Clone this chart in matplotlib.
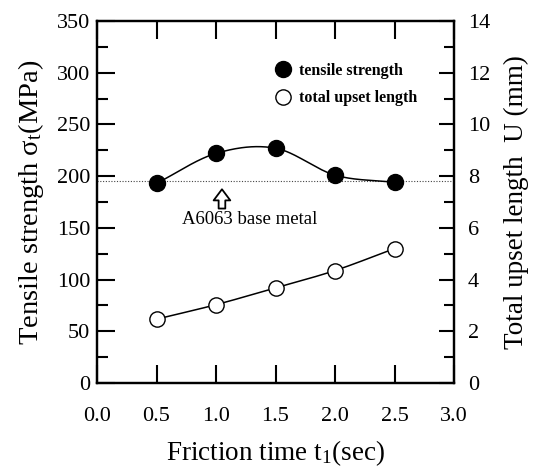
import numpy as np
import matplotlib
matplotlib.use("Agg")
import matplotlib.pyplot as plt
from matplotlib.ticker import MultipleLocator

plt.rcParams['font.family'] = ['Liberation Serif', 'DejaVu Serif']
plt.rcParams['mathtext.fontset'] = 'custom'
plt.rcParams['mathtext.rm'] = 'Liberation Serif'
plt.rcParams['mathtext.it'] = 'Liberation Serif:italic'

# data
friction_time = [0.5, 1.0, 1.5, 2.0, 2.5]
tensile_strength = [193, 222, 227, 201, 194]   # MPa
upset_length = [2.47, 3.03, 3.68, 4.35, 5.2]    # mm
base_metal = 195                                # MPa, A6063


def smooth(x, y, n=200):
    # catmull-rom curve through the points, only for drawing the line
    x = np.asarray(x, float)
    y = np.asarray(y, float)
    px = np.concatenate([[2 * x[0] - x[1]], x, [2 * x[-1] - x[-2]]])
    py = np.concatenate([[2 * y[0] - y[1]], y, [2 * y[-1] - y[-2]]])
    xs, ys = [], []
    for i in range(1, len(px) - 2):
        t = np.linspace(0, 1, n // (len(x) - 1))
        for p, out in ((px, xs), (py, ys)):
            p0, p1, p2, p3 = p[i - 1], p[i], p[i + 1], p[i + 2]
            out.extend(0.5 * (2 * p1 + (-p0 + p2) * t
                              + (2 * p0 - 5 * p1 + 4 * p2 - p3) * t ** 2
                              + (-p0 + 3 * p1 - 3 * p2 + p3) * t ** 3))
    return np.array(xs), np.array(ys)


fig = plt.figure(figsize=(5.38, 4.71), dpi=100)
ax = fig.add_axes([0.1803, 0.1868, 0.6636, 0.7686])
ax2 = ax.twinx()

ax.axhline(base_metal, color='#444444', lw=0.8, ls=(0, (1, 1.5)), zorder=1)

sx, sy = smooth(friction_time, tensile_strength)
ax.plot(sx, sy, color='black', lw=1.1, zorder=2)
h1, = ax.plot(friction_time, tensile_strength, 'o', ms=11.5, mfc='black',
              mec='black', label='tensile strength', zorder=3)

ux, uy = smooth(friction_time, upset_length)
ax2.plot(ux, uy, color='black', lw=1.1, zorder=2)
h2, = ax2.plot(friction_time, upset_length, 'o', ms=11, mfc='white',
               mec='black', mew=1.0, label='total upset length', zorder=3)

ax.set_xlim(0, 3.0)
ax.set_ylim(0, 350)
ax2.set_ylim(0, 14)

ax.xaxis.set_major_locator(MultipleLocator(0.5))
ax.yaxis.set_major_locator(MultipleLocator(50))
ax.yaxis.set_minor_locator(MultipleLocator(25))
ax2.yaxis.set_major_locator(MultipleLocator(2))
ax2.yaxis.set_minor_locator(MultipleLocator(1))
ax.xaxis.set_major_formatter(plt.FuncFormatter(lambda v, p: f"{v:.1f}"))

ax.tick_params(axis='x', direction='in', length=13, width=1.5, top=True,
               labelsize=16, pad=17)
ax.tick_params(axis='y', which='major', direction='in', length=13, width=1.5,
               labelsize=16, pad=5)
ax.tick_params(axis='y', which='minor', direction='in', length=8, width=1.5)
ax2.tick_params(axis='y', which='major', direction='in', length=11, width=1.5,
                labelsize=16, pad=10)
ax2.tick_params(axis='y', which='minor', direction='in', length=7, width=1.5)

for a in (ax, ax2):
    for s in a.spines.values():
        s.set_linewidth(1.6)

ax.set_xlabel(r"Friction time t$_{\rm 1}$(sec)", fontsize=19.5, labelpad=9)
ax.set_ylabel(r"Tensile strength σ$_{\rm t}$(MPa)", fontsize=20.5, labelpad=8)
ax2.set_ylabel("Total upset length  U (mm)", fontsize=19.5, labelpad=10)

ax.annotate('', xy=(1.05, 190), xytext=(1.05, 166),
            arrowprops=dict(arrowstyle='simple,head_width=0.75,head_length=0.5,tail_width=0.3',
                            mutation_scale=16, fc='white', ec='black', lw=1.3))
ax.text(1.28, 158, "A6063 base metal", fontsize=13.5, ha='center', va='center')

ax.legend(handles=[h1, h2], loc='center left', bbox_to_anchor=(0.499, 0.8246),
          frameon=False, borderaxespad=0, borderpad=0,
          handletextpad=0.5, handlelength=1.0,
          labelspacing=0.7, prop={'size': 11.5, 'weight': 'bold'})

fig.savefig("out.png", dpi=100)
